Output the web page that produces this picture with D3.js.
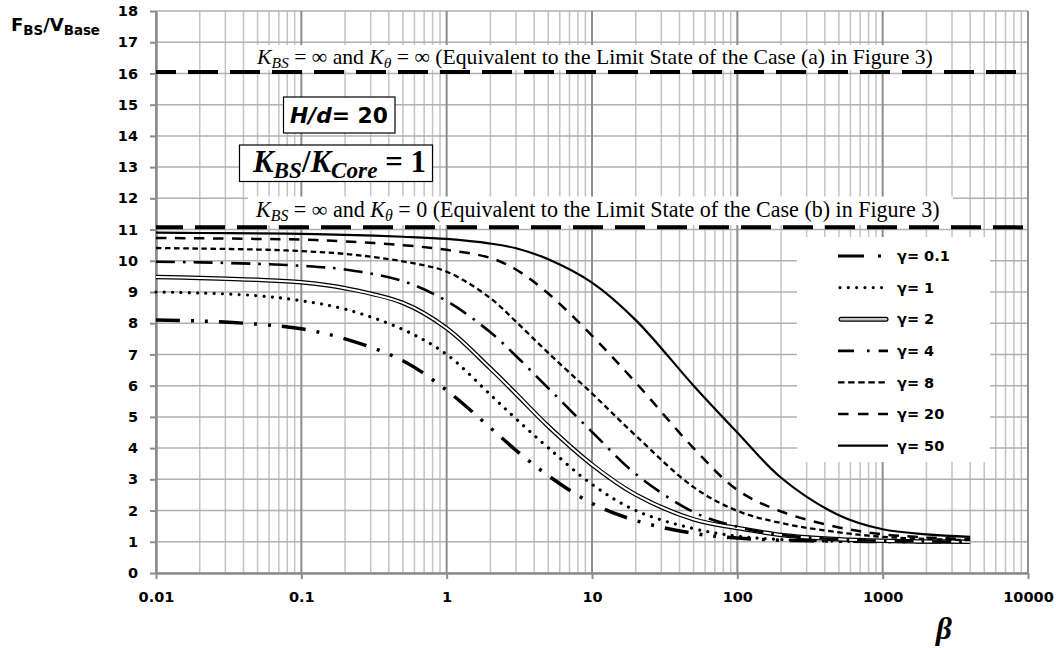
<!DOCTYPE html>
<html>
<head>
<meta charset="utf-8">
<script src="https://cdn.jsdelivr.net/npm/d3@7"></script>
<style>
  body { margin: 0; background: #fff; }
</style>
</head>
<body>
<svg id="chart" width="1058" height="648"></svg>
<script>
// ---- data ----
const betaVals = [0.01, 0.02, 0.05, 0.1, 0.2, 0.5, 1, 2, 3, 5, 10, 20, 50, 100, 200, 500, 1000, 2000, 4000];

const gammaLabels = ["γ= 0.1", "γ= 1", "γ= 2", "γ= 4", "γ= 8", "γ= 20", "γ= 50"];

const fGamma01 = [8.10, 8.07, 7.97, 7.82, 7.50, 6.80, 5.85, 4.65, 3.93, 3.12, 2.23, 1.68, 1.27, 1.12, 1.05, 1.02, 1.01, 1.00, 1.00];
const fGamma1  = [9.00, 8.97, 8.88, 8.72, 8.45, 7.80, 7.00, 5.71, 4.94, 4.01, 2.84, 2.00, 1.42, 1.18, 1.07, 1.02, 1.01, 1.00, 1.00];
const fGamma2  = [9.48, 9.45, 9.39, 9.31, 9.12, 8.65, 7.84, 6.55, 5.74, 4.70, 3.47, 2.51, 1.72, 1.44, 1.22, 1.08, 1.03, 1.01, 1.00];
const fGamma4  = [9.97, 9.95, 9.90, 9.84, 9.72, 9.35, 8.71, 7.71, 6.95, 5.92, 4.52, 3.17, 1.95, 1.48, 1.22, 1.08, 1.03, 1.01, 1.00];
const fGamma8  = [10.41, 10.39, 10.36, 10.31, 10.22, 9.98, 9.65, 8.80, 8.05, 7.05, 5.75, 4.40, 2.75, 1.99, 1.60, 1.30, 1.16, 1.09, 1.05];
const fGamma20 = [10.73, 10.72, 10.70, 10.68, 10.62, 10.50, 10.35, 10.09, 9.72, 8.95, 7.60, 6.10, 4.00, 2.66, 1.97, 1.46, 1.24, 1.14, 1.08];
const fGamma50 = [10.90, 10.89, 10.88, 10.86, 10.83, 10.77, 10.70, 10.55, 10.40, 10.05, 9.30, 8.10, 6.00, 4.50, 3.05, 1.85, 1.40, 1.24, 1.16];

const limitValues = [16.05, 11.07];

const yTicks = d3.range(0, 19);
const xTickVals = [0.01, 0.1, 1, 10, 100, 1000, 10000];
const xTickLabels = ["0.01", "0.1", "1", "10", "100", "1000", "10000"];

const allSeries = [fGamma01, fGamma1, fGamma2, fGamma4, fGamma8, fGamma20, fGamma50];

// line styles for each gamma (plot and legend sample)
const seriesStyles = [
  { width: 3.5, dash: "24 11 3 11 3 11", cap: "butt", legendDash: "26 14 3 100" },
  { width: 3.2, dash: "0.01 8.3", cap: "round", legendDash: "0.01 8.3" },
  { width: 4.5, dash: null, cap: "butt", double: true },
  { width: 2.6, dash: "19 8 2.6 8", cap: "butt", legendDash: "16 13 2.6 9 12" },
  { width: 2.3, dash: "5.5 3.6", cap: "butt", legendDash: "6.5 3.6" },
  { width: 2.5, dash: "10.5 8.5", cap: "butt", legendDash: "10.5 9.5" },
  { width: 2.2, dash: null, cap: "butt" }
];

const sansBold = "'DejaVu Sans', sans-serif";
const serif = "'Liberation Serif', 'DejaVu Serif', serif";

// ---- setup ----
const svg = d3.select("#chart");

const x = d3.scaleLog().domain([0.01, 10000]).range([156, 1028]);
const y = d3.scaleLinear().domain([0, 18]).range([573, 11]);

// minor log grid values (2..9 in each decade)
const minorVals = [];
xTickVals.slice(0, -1).forEach(d => {
  for (let k = 2; k <= 9; k++) minorVals.push(d * k);
});

// ---- grid ----
const grid = svg.append("g");

grid.selectAll(".vminor")
  .data(minorVals)
  .enter()
  .append("line")
  .attr("x1", d => x(d)).attr("x2", d => x(d))
  .attr("y1", y(18)).attr("y2", y(0))
  .attr("stroke", "#c4c4c4")
  .attr("stroke-width", 1.5);

grid.selectAll(".hgrid")
  .data(yTicks)
  .enter()
  .append("line")
  .attr("x1", x(0.01)).attr("x2", x(10000))
  .attr("y1", d => y(d)).attr("y2", d => y(d))
  .attr("stroke", "#b0b0b0")
  .attr("stroke-width", 1.5);

grid.selectAll(".vmajor")
  .data(xTickVals)
  .enter()
  .append("line")
  .attr("x1", d => x(d)).attr("x2", d => x(d))
  .attr("y1", y(18)).attr("y2", y(0))
  .attr("stroke", "#8e8e8e")
  .attr("stroke-width", 2);

// ---- axes ----
const yAxis = svg.append("g")
  .attr("transform", `translate(${x(0.01)},0)`)
  .call(d3.axisLeft(y).tickValues(yTicks).tickSize(6).tickSizeOuter(0).tickPadding(12)
    .tickFormat(d3.format("d")));

const xAxis = svg.append("g")
  .attr("transform", `translate(0,${y(0)})`)
  .call(d3.axisBottom(x).tickValues(xTickVals).tickSize(6).tickSizeOuter(0).tickPadding(13)
    .tickFormat((d, i) => xTickLabels[i]));

[yAxis, xAxis].forEach(ax => {
  ax.attr("font-family", sansBold).attr("font-size", 14.5).attr("font-weight", "bold");
  ax.select(".domain").attr("stroke", "#8c8c8c").attr("stroke-width", 2.5);
  ax.selectAll(".tick line").attr("stroke", "#8c8c8c").attr("stroke-width", 2);
  ax.selectAll(".tick text").attr("fill", "#000");
});

// ---- rich text helper (italic parts and subscripts) ----
function richText(parent, x0, y0, parts, opts) {
  const build = size => {
    const t = parent.append("text")
      .attr("x", x0).attr("y", y0)
      .attr("font-family", opts.family)
      .attr("font-size", size)
      .attr("font-weight", opts.weight || "normal")
      .attr("fill", "#000")
      .style("white-space", "pre");
    let cur = 0;
    parts.forEach(p => {
      const off = p.sub ? size * (opts.subOff || 0.28) : 0;
      t.append("tspan")
        .attr("dy", off - cur)
        .attr("font-size", p.sub ? size * (opts.subScale || 0.72) : size)
        .attr("font-style", p.it ? "italic" : "normal")
        .text(p.t);
      cur = off;
    });
    return t;
  };
  let t = build(opts.size);
  if (opts.width) {
    const w = t.node().getComputedTextLength();
    t.remove();
    t = build(opts.size * opts.width / w);
  }
  return t;
}

// ---- white boxes behind annotations ----
const boxes = svg.append("g");
boxes.append("rect").attr("x", 250).attr("y", 45).attr("width", 690).attr("height", 25).attr("fill", "#fff");
boxes.append("rect").attr("x", 248).attr("y", 196.5).attr("width", 705).attr("height", 28.5).attr("fill", "#fff");
boxes.append("rect").attr("x", 283.5).attr("y", 97).attr("width", 111.5).attr("height", 36)
  .attr("fill", "#fff").attr("stroke", "#000").attr("stroke-width", 1.2);
boxes.append("rect").attr("x", 239.5).attr("y", 145).attr("width", 193).attr("height", 36.5)
  .attr("fill", "#fff").attr("stroke", "#000").attr("stroke-width", 1.2);

// ---- limit state lines ----
svg.append("g")
  .selectAll("line")
  .data(limitValues)
  .enter()
  .append("line")
  .attr("x1", x(0.01)).attr("x2", x(10000))
  .attr("y1", d => y(d)).attr("y2", d => y(d))
  .attr("stroke", "#000")
  .attr("stroke-width", 4)
  .attr("stroke-dasharray", "30 12")
  .attr("stroke-dashoffset", (d, i) => i === 0 ? 10 : 3);

// ---- curves ----
const line = d3.line()
  .x(d => x(d[0]))
  .y(d => y(d[1]))
  .curve(d3.curveCatmullRom.alpha(0.5));

const curves = svg.append("g");
allSeries.forEach((vals, i) => {
  const st = seriesStyles[i];
  const pts = betaVals.map((b, j) => [b, vals[j]]);
  curves.append("path")
    .attr("d", line(pts))
    .attr("fill", "none")
    .attr("stroke", "#000")
    .attr("stroke-width", st.width)
    .attr("stroke-linecap", st.cap)
    .attr("stroke-dasharray", st.dash);
  if (st.double) {
    curves.append("path")
      .attr("d", line(pts))
      .attr("fill", "none")
      .attr("stroke", "#fff")
      .attr("stroke-width", 2);
  }
});

// ---- legend ----
const legend = svg.append("g");
legend.append("rect")
  .attr("x", 797).attr("y", 237).attr("width", 193).attr("height", 225)
  .attr("fill", "#fff");

const legendY = d3.scaleLinear().domain([0, 6]).range([256, 445.7]);

gammaLabels.forEach((lab, i) => {
  const st = seriesStyles[i];
  const ly = legendY(i);
  if (st.double) {
    legend.append("line").attr("x1", 841).attr("x2", 886).attr("y1", ly).attr("y2", ly)
      .attr("stroke", "#000").attr("stroke-width", 5).attr("stroke-linecap", "round");
    legend.append("line").attr("x1", 841).attr("x2", 886).attr("y1", ly).attr("y2", ly)
      .attr("stroke", "#c8c8c8").attr("stroke-width", 2.4).attr("stroke-linecap", "round");
  } else {
    legend.append("line")
      .attr("x1", st.cap === "round" ? 840 : 838).attr("x2", 888)
      .attr("y1", ly).attr("y2", ly)
      .attr("stroke", "#000")
      .attr("stroke-width", Math.min(st.width, 3.2))
      .attr("stroke-linecap", st.cap)
      .attr("stroke-dasharray", st.legendDash || null);
  }
  legend.append("text")
    .attr("x", 897).attr("y", ly)
    .attr("dy", "0.36em")
    .attr("font-family", sansBold)
    .attr("font-weight", "bold")
    .attr("font-size", 14.5)
    .text(lab);
});

// ---- annotations ----
const notes = svg.append("g");

richText(notes, 257, 63.5, [
  { t: "K", it: true }, { t: "BS", it: true, sub: true },
  { t: " = ∞ and " },
  { t: "K", it: true }, { t: "θ", it: true, sub: true },
  { t: " = ∞ (Equivalent to the Limit State of the Case (a) in Figure 3)" }
], { family: serif, size: 18, width: 676, subOff: 0.22 });

richText(notes, 256, 216.5, [
  { t: "K", it: true }, { t: "BS", it: true, sub: true },
  { t: " = ∞ and " },
  { t: "K", it: true }, { t: "θ", it: true, sub: true },
  { t: " = 0 (Equivalent to the Limit State of the Case (b) in Figure 3)" }
], { family: serif, size: 18, width: 684, subOff: 0.22 });

richText(notes, 290, 122.5, [
  { t: "H/d", it: true }, { t: "= 20" }
], { family: sansBold, size: 22, weight: "bold", width: 98 });

richText(notes, 253, 171.5, [
  { t: "K", it: true }, { t: "BS", it: true, sub: true },
  { t: "/" },
  { t: "K", it: true }, { t: "Core", it: true, sub: true },
  { t: " = 1" }
], { family: serif, size: 25, weight: "bold", width: 173, subOff: 0.2, subScale: 0.75 });

// axis titles
richText(svg, 11, 31, [
  { t: "F" }, { t: "BS", sub: true }, { t: "/V" }, { t: "Base", sub: true }
], { family: sansBold, size: 17, weight: "bold", width: 89, subOff: 0.22, subScale: 0.74 });

svg.append("text")
  .attr("x", 944).attr("y", 639)
  .attr("text-anchor", "middle")
  .attr("font-family", serif)
  .attr("font-weight", "bold")
  .attr("font-style", "italic")
  .attr("font-size", 31)
  .text("β");
</script>
</body>
</html>
